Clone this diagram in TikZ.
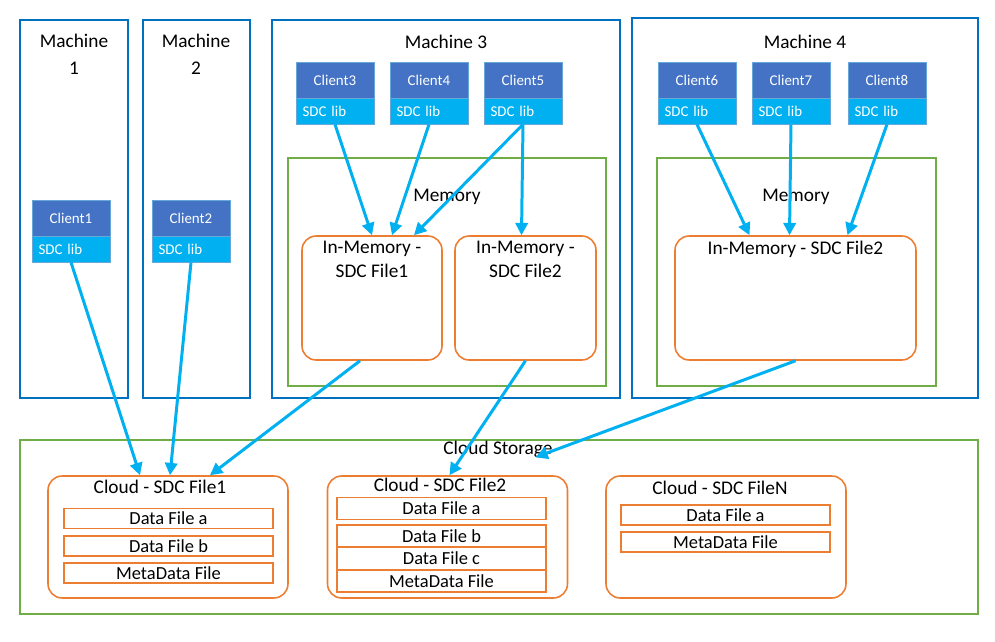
\documentclass[tikz,border=0pt]{standalone}
\usepackage{fontspec}
\setmainfont{Carlito}
\usetikzlibrary{arrows.meta,positioning}
\definecolor{mblue}{RGB}{0,112,192}
\definecolor{cblue}{RGB}{68,114,196}
\definecolor{lblue}{RGB}{0,176,240}
\definecolor{mgreen}{RGB}{112,173,71}
\definecolor{morange}{RGB}{237,125,49}
\tikzset{
  machine/.style={draw=mblue, line width=1.6pt, minimum height=7.56cm},
  mlabel/.style={align=center, font=\fontsize{11}{15.5}\selectfont},
  client/.style={draw=mblue!60, fill=cblue, text=white, minimum width=1.56cm, minimum height=0.72cm, font=\fontsize{8.5}{9}\selectfont},
  lib/.style={draw=mblue!60, fill=lblue, text=white, minimum width=1.56cm, minimum height=0.52cm, font=\fontsize{8.5}{9}\selectfont, text width=1.3cm, align=left},
  memory/.style={draw=mgreen, line width=1.3pt, minimum height=4.56cm},
  inmem/.style={draw=morange, line width=0.9pt, rounded corners=8pt, minimum height=2.48cm},
  cfile/.style={draw=morange, line width=0.9pt, rounded corners=8pt, minimum width=4.8cm, minimum height=2.44cm},
  dfile/.style={draw=morange, line width=0.7pt, minimum width=4.18cm, minimum height=0.4cm, inner sep=0pt, font=\fontsize{10.5}{11}\selectfont},
  ttl/.style={font=\fontsize{11}{13.5}\selectfont, align=center},
  link/.style={draw=lblue, line width=1.7pt, -{Triangle[length=7pt,width=7pt]}}
}
\begin{document}
\begin{tikzpicture}[x=0.02cm, y=-0.02cm]
\useasboundingbox (0,0) rectangle (995,642);
% machines
\node[machine, minimum width=2.16cm] (m1) at (74,209) {};
\node[machine, minimum width=2.14cm] (m2) at (196.5,209) {};
\node[machine, minimum width=6.96cm] (m3) at (446,209) {};
\node[machine, minimum width=6.92cm, minimum height=7.6cm] (m4) at (805,208) {};
\node[mlabel] (m1t) at (74,54) {Machine\\1};
\node[mlabel] (m2t) at (196,54) {Machine\\2};
\node[mlabel] (m3t) at (446,42) {Machine 3};
\node[mlabel] (m4t) at (805,42) {Machine 4};
% memory
\node[memory, minimum width=6.36cm] (mem3) at (447,272) {};
\node[memory, minimum width=5.58cm] (mem4) at (796.5,272) {};
\node[mlabel] (mem3t) at (447,197) {Memory};
\node[mlabel] (mem4t) at (796,197) {Memory};
\node[inmem, minimum width=2.8cm] (im1) at (372,298) {};
\node[inmem, minimum width=2.82cm] (im2) at (525.5,298) {};
\node[inmem, minimum width=4.82cm] (im4) at (795.5,298) {};
\node[ttl, below=0pt of im1.north] {In-Memory -\\SDC File1};
\node[ttl, below=0pt of im2.north] {In-Memory -\\SDC File2};
\node[ttl, below=0pt of im4.north] {In-Memory - SDC File2};
% clients
\foreach \n/\x/\y in {1/71/218, 2/191/218, 3/335/80, 4/429/80, 5/523/80, 6/697/80, 7/791/80, 8/887/80}{
  \node[client] (c\n) at (\x,\y) {Client\n};
  \node[lib] (l\n) at (\x,\y+31) {SDC lib};
}
% cloud
\node[draw=mgreen, line width=1.3pt, minimum width=19.16cm, minimum height=3.48cm] (cs) at (499,527) {};
\node[mlabel] (cst) at (498,449) {Cloud Storage};
\node[cfile] (cf1) at (168,537) {};
\node[cfile] (cf2) at (447.5,537) {};
\node[cfile] (cfn) at (726,537) {};
\node[ttl] at (160,487) {Cloud - SDC File1};
\node[ttl] at (440,485) {Cloud - SDC File2};
\node[ttl] at (720,488) {Cloud - SDC FileN};
\node[dfile] (d1a) at (168.5,518.5) {Data File a};
\node[dfile] (d1b) at (168.5,546) {Data File b};
\node[dfile] (d1m) at (168.5,573) {MetaData File};
\node[dfile, minimum height=0.44cm] (d2a) at (441.5,508.5) {Data File a};
\node[dfile, minimum height=0.44cm] (d2b) at (441.5,536) {Data File b};
\node[dfile, minimum height=0.44cm] (d2c) at (441.5,558.5) {Data File c};
\node[dfile, minimum height=0.44cm] (d2m) at (441.5,581) {MetaData File};
\node[dfile] (dna) at (725.5,515) {Data File a};
\node[dfile] (dnm) at (725.5,542) {MetaData File};
% links
\draw[link] (l1.south) -- ([xshift=-28*0.02cm]cf1.north);
\draw[link] (l2.south) -- ([xshift=2*0.02cm]cf1.north);
\draw[link] ([xshift=-12*0.02cm]im1.south) -- ([xshift=42*0.02cm]cf1.north);
\draw[link] (l3.south) -- ([xshift=0cm]im1.north);
\draw[link] (l4.south) -- ([xshift=20*0.02cm]im1.north);
\draw[link] (l5.south) -- ([xshift=42*0.02cm]im1.north);
\draw[link] (l5.south) -- ([xshift=-4*0.02cm]im2.north);
\draw[link] (im2.south) -- ([xshift=2*0.02cm]cf2.north);
\draw[link] (l6.south) -- ([xshift=-46*0.02cm]im4.north);
\draw[link] (l7.south) -- ([xshift=-6*0.02cm]im4.north);
\draw[link] (l8.south) -- ([xshift=52*0.02cm]im4.north);
\draw[link] (im4.south) -- ([xshift=88*0.02cm,yshift=18*0.02cm]cf2.north);
\end{tikzpicture}
\end{document}
